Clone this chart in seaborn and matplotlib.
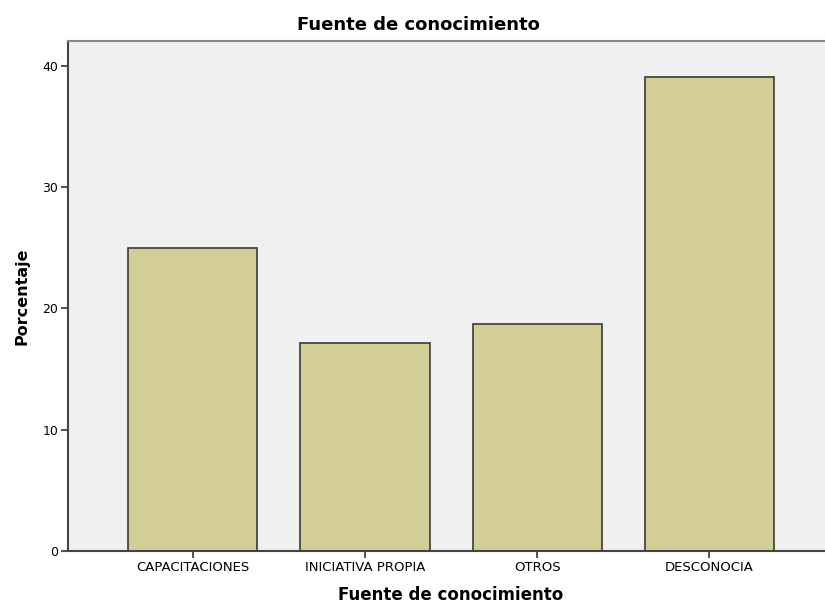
import matplotlib
matplotlib.use("Agg")
import matplotlib.pyplot as plt
import seaborn as sns
import pandas as pd

categories = ["CAPACITACIONES", "INICIATIVA PROPIA", "OTROS", "DESCONOCIA"]
porcentaje = [25.0, 17.19, 18.75, 39.06]
yticks = [0, 10, 20, 30, 40]

df = pd.DataFrame({"cat": categories, "pct": porcentaje})

plt.rcParams['font.family'] = ['DejaVu Sans']
fig = plt.figure(figsize=(8.25, 6.03), dpi=100)
ax = fig.add_axes([68/825, 52/603, 1 - 68/825 + 0.01, (551-41)/603])
ax.set_facecolor("#f0f0f0")

sns.barplot(data=df, x="cat", y="pct", ax=ax, color="#d3ce98", width=0.75,
            edgecolor="#3a3a3a", linewidth=1.2, saturation=1)

ax.set_xlim(-0.725, 3.72)
ax.set_ylim(0, 42.06)
ax.set_yticks(yticks)
ax.set_yticklabels([str(v) for v in yticks], fontsize=9)
ax.set_xticks(range(len(categories)))
ax.set_xticklabels(categories, fontsize=9.5)
ax.tick_params(axis="both", length=5, width=1.2, color="#333333", pad=2)

for s in ["left", "bottom"]:
    ax.spines[s].set_color("#444444")
    ax.spines[s].set_linewidth(1.5)
ax.spines["top"].set_color("#8a8a8a")
ax.spines["top"].set_linewidth(1.5)
ax.spines["right"].set_visible(False)

ax.set_xlabel("Fuente de conocimiento", fontsize=12, fontweight="bold", labelpad=9)
ax.set_ylabel("Porcentaje", fontsize=11.5, fontweight="bold", labelpad=9)
fig.text(418/825, 1 - 25/603, "Fuente de conocimiento", fontsize=13, fontweight="bold",
         ha="center", va="center")

fig.savefig("out.png", dpi=100)
